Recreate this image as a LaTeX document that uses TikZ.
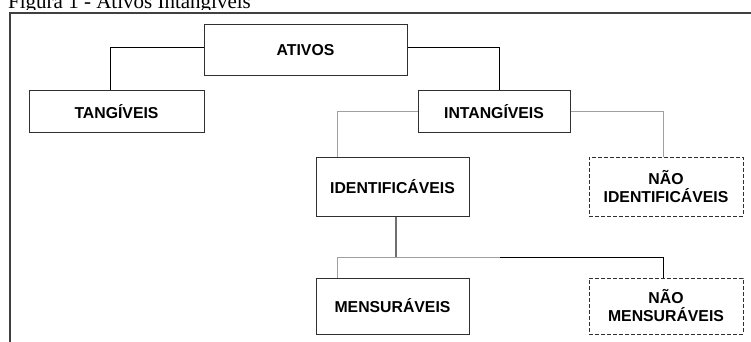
\documentclass[tikz,border=0pt]{standalone}
\usepackage{fontspec}
\setmainfont{Liberation Serif}
\newfontfamily\arialf{Liberation Sans}
\usetikzlibrary{calc}
\definecolor{framec}{HTML}{404040}
\definecolor{boxc}{HTML}{303030}
\definecolor{lgray}{HTML}{A0A0A0}
\definecolor{mgray}{HTML}{707070}
\tikzset{
  box/.style={draw=boxc, line width=1pt, fill=white, align=center, inner sep=0pt,
    font=\arialf\bfseries\fontsize{15.8}{18}\selectfont},
  dbox/.style={box, dash pattern=on 4pt off 2pt},
  dark/.style={draw=black, line width=0.9pt},
  light/.style={draw=lgray, line width=1pt},
  mid/.style={draw=mgray, line width=1.1pt},
}
\begin{document}
\begin{tikzpicture}[x=1pt,y=-1pt]
\useasboundingbox (0,0) rectangle (751,342);
\node[anchor=base west, inner sep=0pt, font=\fontsize{21}{24}\selectfont] (cap) at (8,9) {Figura 1 - Ativos Intangíveis};
\fill[white] (0,10.5) rectangle (751,342);
\draw[framec, line width=1.6pt] (10,342) -- (10,13) -- (751,13);

\node[box, minimum width=203pt, minimum height=51pt] (ativos) at (305.5,50.5) {ATIVOS};
\node[box, minimum width=175pt, minimum height=41pt] (tang) at (116.5,111.5) {TANGÍVEIS};
\node[box, minimum width=152pt, minimum height=41pt] (intang) at (494,111.5) {INTANGÍVEIS};
\node[box, minimum width=153pt, minimum height=59pt] (ident) at (392.5,186.5) {IDENTIFICÁVEIS};
\node[dbox, minimum width=154pt, minimum height=59pt] (nident) at (666,186.5) {NÃO\\IDENTIFICÁVEIS};
\node[box, minimum width=153pt, minimum height=56pt] (mens) at (392.5,306) {MENSURÁVEIS};
\node[dbox, minimum width=154pt, minimum height=56pt] (nmens) at (666,306) {NÃO\\MENSURÁVEIS};

\draw[dark] ([yshift=3.5pt]ativos.west) -| ([xshift=-6.5pt]tang.north);
\draw[dark] ([yshift=3.5pt]ativos.east) -| ([xshift=5pt]intang.north);
\draw[light] (intang.west) -| ([xshift=-55.5pt]ident.north);
\draw[light] (intang.east) -| ([xshift=-3pt]nident.north);
\coordinate (split) at ($([xshift=3.5pt]ident.south)+(0,41)$);
\coordinate (mid) at ($(split)+(104,0)$);
\draw[mid] ([xshift=3.5pt]ident.south) -- (split);
\draw[light] (mid) -- (split) -| ([xshift=-55.5pt]mens.north);
\draw[dark] (mid) -| ([xshift=-3pt]nmens.north);
\end{tikzpicture}
\end{document}
